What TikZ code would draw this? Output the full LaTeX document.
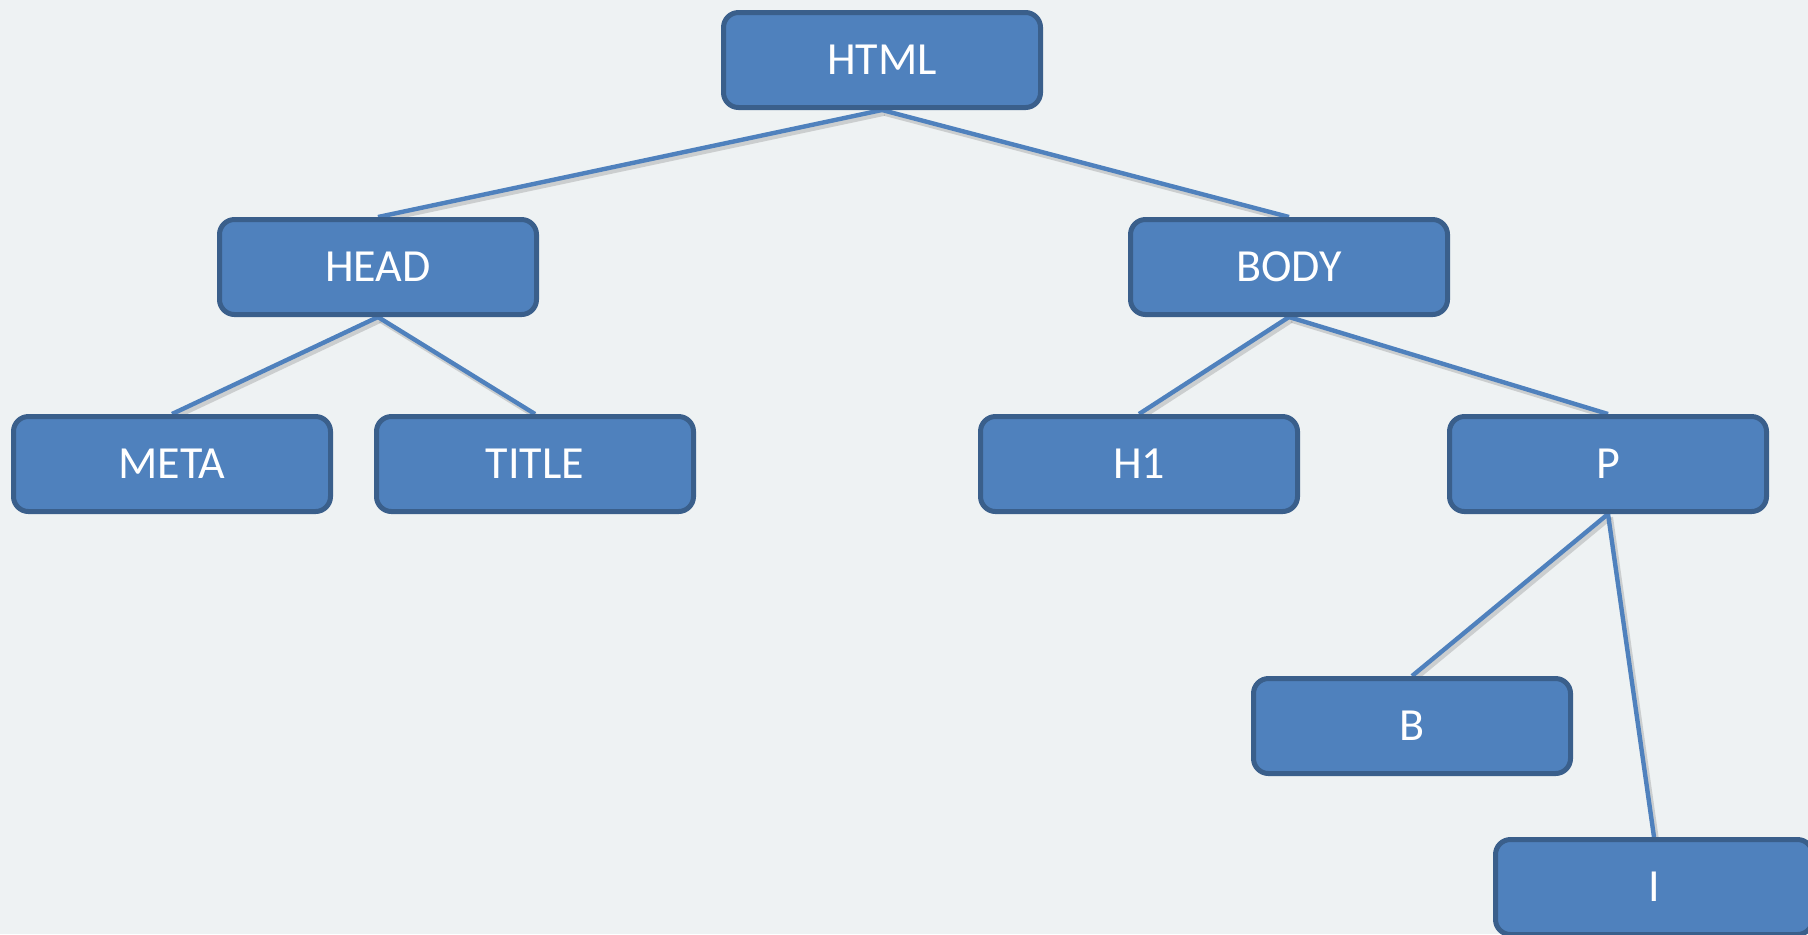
\documentclass[tikz,border=0pt]{standalone}
\usepackage{fontspec}
\setmainfont{Carlito}
\definecolor{bgcol}{HTML}{EEF2F3}
\definecolor{boxfill}{HTML}{4F81BD}
\definecolor{boxdraw}{HTML}{3A5F8B}
\definecolor{edgecol}{HTML}{4F81BD}
\pgfdeclarelayer{bglayer}
\pgfdeclarelayer{edgelayer}
\pgfsetlayers{bglayer,edgelayer,main}
\tikzset{
  treebox/.style={draw=boxdraw, fill=boxfill, line width=2.5pt, rounded corners=7.5pt,
    minimum width=158.5pt, minimum height=47.5pt, inner sep=0pt, text=white,
    font=\fontsize{23}{28}\selectfont},
  edgeshadow/.style={draw=black!45, opacity=0.35, line width=2.6pt},
  treeedge/.style={draw=edgecol, line width=2.2pt},
}
\begin{document}
\begin{tikzpicture}[x=0.5pt,y=-0.5pt]
\useasboundingbox (0,0) rectangle (1808,934);
\begin{pgfonlayer}{bglayer}
\fill[bgcol] (0,0) rectangle (1808,934);
\end{pgfonlayer}
\node[treebox] (html)  at (882,60)   {HTML};
\node[treebox] (head)  at (378,267)  {HEAD};
\node[treebox] (body)  at (1289,267) {BODY};
\node[treebox] (meta)  at (172,464)  {META};
\node[treebox] (title) at (535,464)  {TITLE};
\node[treebox] (h1)    at (1139,464) {H1};
\node[treebox] (p)     at (1608,464) {P};
\node[treebox] (b)     at (1412,726) {B};
\node[treebox] (i)     at (1654,887) {I};
\begin{pgfonlayer}{edgelayer}
\foreach \u/\v in {html/head, html/body, head/meta, head/title, body/h1, body/p, p/b, p/i} {
  \draw[edgeshadow, transform canvas={shift={(1.2pt,-1.6pt)}}] (\u.south) -- (\v.north);
  \draw[treeedge] (\u.south) -- (\v.north);
}
\end{pgfonlayer}
\end{tikzpicture}
\end{document}
